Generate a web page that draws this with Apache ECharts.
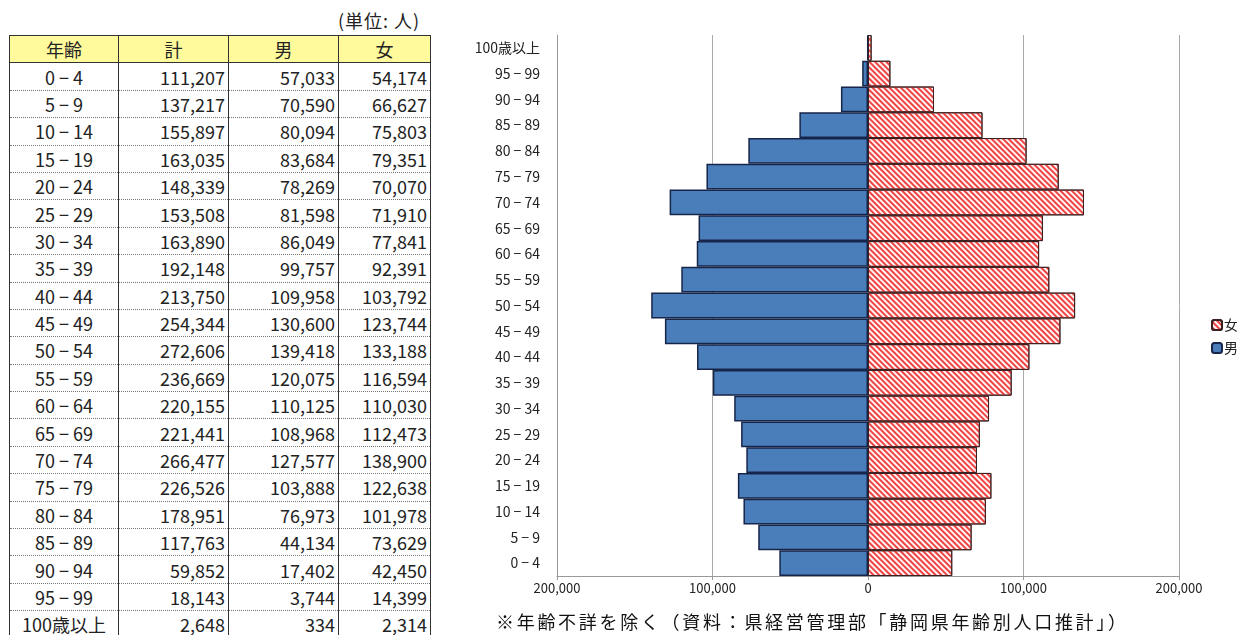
<!DOCTYPE html>
<html>
<head>
<meta charset="utf-8">
<script src="https://cdn.jsdelivr.net/npm/echarts@6/dist/echarts.min.js"></script>
<style>
	html, body { margin:0; padding:0; background:#fff; }
	body { width:1237px; height:635px; position:relative; overflow:hidden; font-family:"Noto Sans CJK JP", sans-serif; }
	#data { position:absolute; left:0; top:0; width:1237px; height:635px; }
	#unit { position:absolute; left:338px; top:7px; font-size:18px; letter-spacing:1px; color:#222; }
	#note { position:absolute; left:496px; top:608px; font-size:18px; letter-spacing:2.7px; color:#111; white-space:nowrap; }
	#tbl { position:absolute; left:9px; top:35px; border-collapse:collapse; table-layout:fixed; color:#222; font-size:18px; }
	#tbl td { height:26.4px; padding:0 3px; border-left:1.5px solid #333; border-right:1.5px solid #333; border-bottom:1px dotted #777; line-height:26px; text-align:right; white-space:nowrap; }
	#tbl td.age { text-align:center; }
	#tbl tr.head td { background:#fffa9c; text-align:center; border-top:1.5px solid #333; border-bottom:1.5px solid #333; }
</style>
</head>
<body>
<div id="unit">(単位: 人)</div>
<table id="tbl">
	<colgroup><col style="width:109px"><col style="width:110px"><col style="width:110px"><col style="width:92px"></colgroup>
	<tbody id="rows"></tbody>
</table>
<div id="data"></div>
<div id="note">※年齢不詳を除く（資料：県経営管理部「静岡県年齢別人口推計」）</div>
<script>
var ages = ['0 − 4','5 − 9','10 − 14','15 − 19','20 − 24','25 − 29','30 − 34','35 − 39','40 − 44','45 − 49',
	'50 − 54','55 − 59','60 − 64','65 − 69','70 − 74','75 − 79','80 − 84','85 − 89','90 − 94','95 − 99','100歳以上'];
var total = [111207,137217,155897,163035,148339,153508,163890,192148,213750,254344,
	272606,236669,220155,221441,266477,226526,178951,117763,59852,18143,2648];
var male = [57033,70590,80094,83684,78269,81598,86049,99757,109958,130600,
	139418,120075,110125,108968,127577,103888,76973,44134,17402,3744,334];
var female = [54174,66627,75803,79351,70070,71910,77841,92391,103792,123744,
	133188,116594,110030,112473,138900,122638,101978,73629,42450,14399,2314];
var headers = ['年齢','計','男','女'];
var xTicks = [-200000, 200000, 100000];

var fmt = function(v){ return Math.abs(v).toLocaleString('en-US'); };

// table
var html = '<tr class="head">';
headers.forEach(function(h){ html += '<td>' + h + '</td>'; });
html += '</tr>';
for(var i=0; i<ages.length; i++){
	html += '<tr><td class="age">' + ages[i] + '</td><td>' + fmt(total[i]) + '</td><td>' + fmt(male[i]) + '</td><td>' + fmt(female[i]) + '</td></tr>';
}
document.getElementById('rows').innerHTML = html;

// chart
var chart = echarts.init(document.getElementById('data'));
var font = '"Noto Sans CJK JP", sans-serif';
chart.setOption({
	animation:false,
	textStyle:{fontFamily:font},
	grid:{left:557, right:58, top:35, bottom:59},
	legend:{
		orient:'vertical',
		left:1206,
		top:313,
		itemWidth:10,
		itemHeight:10,
		itemGap:9,
		textStyle:{fontSize:14, color:'#222', padding:[0,0,0,-3]},
		data:['女','男']
	},
	xAxis:{
		type:'value',
		min:xTicks[0],
		max:xTicks[1],
		interval:xTicks[2],
		axisLine:{show:true, lineStyle:{color:'#999'}},
		axisTick:{show:true, length:4, lineStyle:{color:'#999'}},
		splitLine:{lineStyle:{color:'#aaa'}},
		axisLabel:{formatter:fmt, color:'#222', fontSize:13, margin:6}
	},
	yAxis:{
		type:'category',
		data:ages,
		axisLine:{onZero:false, lineStyle:{color:'#999'}},
		axisTick:{show:false},
		axisLabel:{color:'#222', fontSize:14, margin:17}
	},
	series:[{
		name:'男',
		type:'bar',
		barGap:'-100%',
		barCategoryGap:'0%',
		itemStyle:{color:'#4a7ebb', borderColor:'#16254a', borderWidth:1.5},
		data:male.map(function(v){ return -v; })
	},{
		name:'女',
		type:'bar',
		barGap:'-100%',
		barCategoryGap:'0%',
		itemStyle:{
			color:'#fff4f4',
			borderColor:'#3a2020',
			borderWidth:1,
			decal:{symbol:'rect', symbolSize:1, dashArrayX:[1,0], dashArrayY:[2,1.6], rotation:Math.PI/4, color:'#ee4444'}
		},
		data:female
	}]
});
</script>
</body>
</html>
